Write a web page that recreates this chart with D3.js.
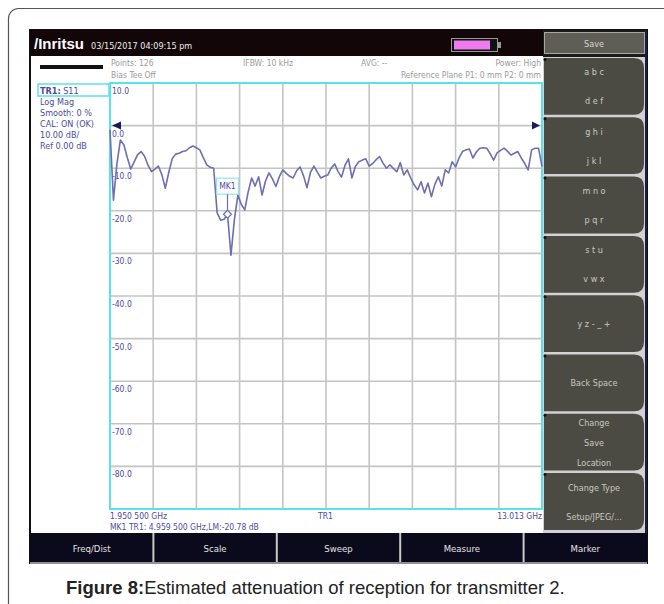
<!DOCTYPE html>
<html>
<head>
<meta charset="utf-8">
<script src="https://cdn.jsdelivr.net/npm/d3@7"></script>
<style>
  body { margin: 0; background: #fff; }
  svg text { font-family: "DejaVu Sans Condensed", "Liberation Sans Narrow", "Liberation Sans", sans-serif; }
</style>
</head>
<body>
<div id="chart"></div>
<script>
// sweep: 126 points, 1.950 500 GHz .. 13.013 GHz
const startFreq = 1.9505;
const stopFreq = 13.013;
const pointCount = 126;

// S11 log mag trace (dB)
const s11 = [
  -1.0, -17.5, -9.0, -3.4, -4.5, -7.5, -10.2, -8.5, -6.8, -6.1,
  -7.2, -9.3, -10.8, -10.2, -9.5, -11.5, -14.7, -11.0, -7.8, -6.7,
  -6.5, -6.1, -5.9, -5.2, -4.8, -5.2, -5.7, -7.5, -9.2, -9.8,
  -10.0, -20.5, -22.2, -22.0, -20.8, -30.4, -22.0, -16.3, -18.5, -19.8,
  -15.5, -12.3, -14.2, -12.0, -16.3, -13.0, -11.1, -12.5, -14.3, -12.0,
  -10.4, -11.2, -11.9, -12.3, -10.6, -9.7, -11.8, -14.6, -11.0, -9.5,
  -10.9, -12.3, -11.9, -11.6, -10.0, -9.0, -10.8, -12.1, -9.3, -7.8,
  -12.3, -9.6, -8.5, -8.1, -7.8, -9.5, -8.9, -8.0, -7.3, -8.8,
  -10.0, -9.2, -10.1, -10.8, -8.7, -11.6, -10.4, -12.3, -13.9, -15.1,
  -13.2, -15.8, -13.5, -16.7, -13.8, -12.0, -14.2, -10.4, -11.1, -8.5,
  -9.7, -7.6, -6.1, -5.7, -5.5, -7.6, -6.2, -5.3, -5.2, -5.3,
  -6.6, -8.1, -6.4, -5.8, -5.3, -6.0, -6.9, -6.5, -6.1, -7.6,
  -8.9, -10.4, -5.7, -5.3, -5.3, -9.6
];

const yTicks = [10, 0, -10, -20, -30, -40, -50, -60, -70, -80, -90];
const yTickLabels = ['10.0', '0.0', '-10.0', '-20.0', '-30.0', '-40.0', '-50.0', '-60.0', '-70.0', '-80.0', ''];
const xDivisions = [0, 1, 2, 3, 4, 5, 6, 7, 8, 9, 10];

const markerIndex = 34;
const markerLabel = 'MK1';

const infoLines = ['Log Mag', 'Smooth: 0 %', 'CAL: ON (OK)', '10.00 dB/', 'Ref 0.00 dB'];
const softKeys = [
  ['a b c', 'd e f'],
  ['g h i', 'j k l'],
  ['m n o', 'p q r'],
  ['s t u', 'v w x'],
  ['y z - _ +'],
  ['Back Space'],
  ['Change', 'Save', 'Location'],
  ['Change Type', 'Setup/JPEG/...']
];
const tabs = ['Freq/Dist', 'Scale', 'Sweep', 'Measure', 'Marker'];

const W = 664, H = 604;
const plot = { left: 110, right: 542, top: 83, bottom: 509 };
const traceColor = '#6e6eb2';
const labelColor = '#4b4ba0';
const cyan = '#5ce1e6';

const svg = d3.select('#chart').append('svg')
  .attr('width', W)
  .attr('height', H);

// outer figure frame
svg.append('rect')
  .attr('x', 8.5).attr('y', 8.5)
  .attr('width', 700).attr('height', 700)
  .attr('rx', 10)
  .attr('fill', 'none')
  .attr('stroke', '#555')
  .attr('stroke-width', 1.2);

// instrument screen
svg.append('rect')
  .attr('x', 30).attr('y', 30)
  .attr('width', 617).attr('height', 533)
  .attr('fill', '#fff')
  .attr('stroke', '#111')
  .attr('stroke-width', 2);

// top bar
svg.append('rect')
  .attr('x', 30).attr('y', 30)
  .attr('width', 514).attr('height', 26)
  .attr('fill', '#120608');

svg.append('text')
  .attr('x', 34).attr('y', 49)
  .attr('fill', '#fff')
  .style('font-size', '15px')
  .style('font-weight', 'bold')
  .style('font-family', 'Liberation Sans, sans-serif')
  .text('/Inritsu');

svg.append('text')
  .attr('x', 91).attr('y', 49)
  .attr('fill', '#eee')
  .style('font-size', '9px')
  .text('03/15/2017 04:09:15 pm');

// battery
svg.append('rect')
  .attr('x', 451.5).attr('y', 38.5)
  .attr('width', 46).attr('height', 13)
  .attr('fill', '#111')
  .attr('stroke', '#999');
svg.append('rect')
  .attr('x', 454).attr('y', 40.5)
  .attr('width', 36).attr('height', 9)
  .attr('fill', '#ee7cee');
svg.append('rect')
  .attr('x', 498).attr('y', 42)
  .attr('width', 3).attr('height', 6)
  .attr('fill', '#999');

// header info
svg.append('rect')
  .attr('x', 40).attr('y', 65)
  .attr('width', 63).attr('height', 4)
  .attr('fill', '#111');

const info = svg.append('g')
  .attr('fill', '#9a9a9a')
  .style('font-size', '8.5px');
info.append('text').attr('x', 111).attr('y', 66).text('Points: 126');
info.append('text').attr('x', 111).attr('y', 78).text('Bias Tee Off');
info.append('text').attr('x', 243).attr('y', 66).text('IFBW: 10 kHz');
info.append('text').attr('x', 361).attr('y', 66).text('AVG: --');
info.append('text').attr('x', 541).attr('y', 66).attr('text-anchor', 'end').text('Power: High');
info.append('text').attr('x', 541).attr('y', 78).attr('text-anchor', 'end').text('Reference Plane P1: 0 mm P2: 0 mm');

// trace info at the left
svg.append('rect')
  .attr('x', 38).attr('y', 84)
  .attr('width', 71).attr('height', 12)
  .attr('fill', 'none')
  .attr('stroke', cyan)
  .attr('stroke-width', 1.5);

const trInfo = svg.append('text')
  .attr('x', 40).attr('y', 93.5)
  .attr('fill', labelColor)
  .style('font-size', '9px');
trInfo.append('tspan').style('font-weight', 'bold').text('TR1:');
trInfo.append('tspan').text(' S11');

svg.append('g')
  .selectAll('text')
  .data(infoLines)
  .join('text')
  .attr('x', 40)
  .attr('y', (d, i) => 105 + i * 11)
  .attr('fill', labelColor)
  .style('font-size', '9px')
  .text(d => d);

// scales
const x = d3.scaleLinear().domain([0, pointCount - 1]).range([plot.left, plot.right]);
const xDiv = d3.scaleLinear().domain([0, 10]).range([plot.left, plot.right]);
const y = d3.scaleLinear().domain([-90, 10]).range([plot.bottom, plot.top]);

// grid
const grid = svg.append('g')
  .attr('stroke', '#c4c4c4')
  .attr('stroke-width', 1.6);

grid.selectAll('line.v')
  .data(xDivisions)
  .join('line')
  .attr('class', 'v')
  .attr('x1', d => xDiv(d)).attr('x2', d => xDiv(d))
  .attr('y1', plot.top).attr('y2', plot.bottom);

grid.selectAll('line.h')
  .data(yTicks)
  .join('line')
  .attr('class', 'h')
  .attr('x1', plot.left).attr('x2', plot.right)
  .attr('y1', d => y(d)).attr('y2', d => y(d));

// y labels, sitting just under each division line
svg.append('g')
  .selectAll('text')
  .data(yTicks)
  .join('text')
  .attr('x', plot.left + 2)
  .attr('y', d => y(d) + 11)
  .attr('fill', labelColor)
  .style('font-size', '8.5px')
  .text((d, i) => yTickLabels[i]);

// plot border
svg.append('rect')
  .attr('x', plot.left).attr('y', plot.top)
  .attr('width', plot.right - plot.left)
  .attr('height', plot.bottom - plot.top)
  .attr('fill', 'none')
  .attr('stroke', cyan)
  .attr('stroke-width', 2);

// trace
const line = d3.line()
  .x((d, i) => x(i))
  .y(d => y(d));

svg.append('path')
  .datum(s11)
  .attr('fill', 'none')
  .attr('stroke', traceColor)
  .attr('stroke-width', 1.6)
  .attr('stroke-linejoin', 'round')
  .attr('d', line);

// reference level arrows
svg.append('path')
  .attr('d', `M${plot.left + 2},${y(0)} L${plot.left + 11},${y(0) - 4} L${plot.left + 11},${y(0) + 4} Z`)
  .attr('fill', '#1a1a5a');
svg.append('path')
  .attr('d', `M${plot.right - 2},${y(0)} L${plot.right - 10},${y(0) - 4} L${plot.right - 10},${y(0) + 4} Z`)
  .attr('fill', '#1a1a5a');

// marker
const mx = x(markerIndex), my = y(s11[markerIndex]);
svg.append('rect')
  .attr('x', mx - 11).attr('y', my - 36)
  .attr('width', 22).attr('height', 16)
  .attr('fill', '#fff')
  .attr('fill-opacity', 0.6)
  .attr('stroke', '#8ee6ea')
  .attr('stroke-width', 1.2);
svg.append('text')
  .attr('x', mx).attr('y', my - 25)
  .attr('text-anchor', 'middle')
  .attr('fill', labelColor)
  .style('font-size', '8.5px')
  .text(markerLabel);
svg.append('line')
  .attr('x1', mx).attr('x2', mx)
  .attr('y1', my - 20).attr('y2', my - 4)
  .attr('stroke', traceColor)
  .attr('stroke-width', 1.2);
svg.append('path')
  .attr('d', `M${mx},${my - 4} L${mx + 4},${my} L${mx},${my + 4} L${mx - 4},${my} Z`)
  .attr('fill', '#fff')
  .attr('stroke', traceColor)
  .attr('stroke-width', 1.2);

// readout under plot
const readout = svg.append('g')
  .attr('fill', labelColor)
  .style('font-size', '8.5px');
readout.append('text').attr('x', plot.left).attr('y', 519).text('1.950 500 GHz');
readout.append('text').attr('x', 318).attr('y', 519).text('TR1');
readout.append('text').attr('x', plot.right).attr('y', 519).attr('text-anchor', 'end').text(stopFreq.toFixed(3) + ' GHz');
readout.append('text').attr('x', plot.left).attr('y', 530).text('MK1 TR1:  4.959 500 GHz,LM:-20.78 dB');

// soft keys
const keyX0 = 544, keyX1 = 644;
svg.append('rect')
  .attr('x', keyX0 - 1).attr('y', 30)
  .attr('width', keyX1 - keyX0 + 3).attr('height', 503)
  .attr('fill', '#d2d2d2');
svg.append('rect')
  .attr('x', keyX0 - 1).attr('y', 30)
  .attr('width', keyX1 - keyX0 + 3).attr('height', 27)
  .attr('fill', '#1a1a1a');
svg.append('rect')
  .attr('x', keyX0 + 0.5).attr('y', 32.5)
  .attr('width', keyX1 - keyX0).attr('height', 21)
  .attr('fill', '#5e5d56')
  .attr('stroke', '#a8a8a0');
svg.append('text')
  .attr('x', (keyX0 + keyX1) / 2).attr('y', 47)
  .attr('text-anchor', 'middle')
  .attr('fill', '#d8d8d0')
  .style('font-size', '9px')
  .text('Save');

const keyTop = 58, keyH = 59.3;
const keys = svg.append('g');
softKeys.forEach((lines, k) => {
  const y0 = keyTop + k * keyH, y1 = y0 + keyH - 2.5, r = 10;
  keys.append('path')
    .attr('d', `M${keyX0},${y0} L${keyX1 - r},${y0} Q${keyX1},${y0} ${keyX1},${y0 + r} L${keyX1},${y1 - r} Q${keyX1},${y1} ${keyX1 - r},${y1} L${keyX0},${y1} Z`)
    .attr('fill', '#4c4b43');
  keys.append('circle')
    .attr('cx', keyX0 + 1).attr('cy', y0 + 1.5).attr('r', 1.5)
    .attr('fill', '#111');
  const step = lines.length === 3 ? 20 : 29;
  const mid = (y0 + y1) / 2;
  lines.forEach((t, j) => {
    keys.append('text')
      .attr('x', (keyX0 + keyX1) / 2)
      .attr('y', mid + (j - (lines.length - 1) / 2) * step + 3.5)
      .attr('text-anchor', 'middle')
      .attr('fill', '#c9c9c1')
      .style('font-size', '9px')
      .text(t);
  });
});
svg.append('line')
  .attr('x1', 646).attr('x2', 646)
  .attr('y1', 30).attr('y2', 533)
  .attr('stroke', '#1c1c4a')
  .attr('stroke-width', 2);

// bottom tabs
svg.append('rect')
  .attr('x', 30).attr('y', 533)
  .attr('width', 617).attr('height', 29)
  .attr('fill', '#0b0a1c');
const tabW = 617 / tabs.length;
svg.append('g')
  .selectAll('line')
  .data(tabs.slice(1))
  .join('line')
  .attr('x1', (d, i) => 30 + (i + 1) * tabW).attr('x2', (d, i) => 30 + (i + 1) * tabW)
  .attr('y1', 533).attr('y2', 562)
  .attr('stroke', '#c8c8c8')
  .attr('stroke-width', 2);
svg.append('g')
  .selectAll('text')
  .data(tabs)
  .join('text')
  .attr('x', (d, i) => 30 + (i + 0.5) * tabW)
  .attr('y', 552)
  .attr('text-anchor', 'middle')
  .attr('fill', '#e4e4e4')
  .style('font-size', '9.5px')
  .text(d => d);
svg.append('line')
  .attr('x1', 30).attr('x2', 647)
  .attr('y1', 563).attr('y2', 563)
  .attr('stroke', '#bbb')
  .attr('stroke-width', 1.5);

// caption
const cap = svg.append('text')
  .attr('x', 66).attr('y', 594)
  .attr('fill', '#222')
  .style('font-size', '18.5px')
  .style('font-family', 'Liberation Sans, Arial, sans-serif');
cap.append('tspan').style('font-weight', 'bold').text('Figure 8:');
cap.append('tspan').text('Estimated attenuation of reception for transmitter 2.');
</script>
</body>
</html>
